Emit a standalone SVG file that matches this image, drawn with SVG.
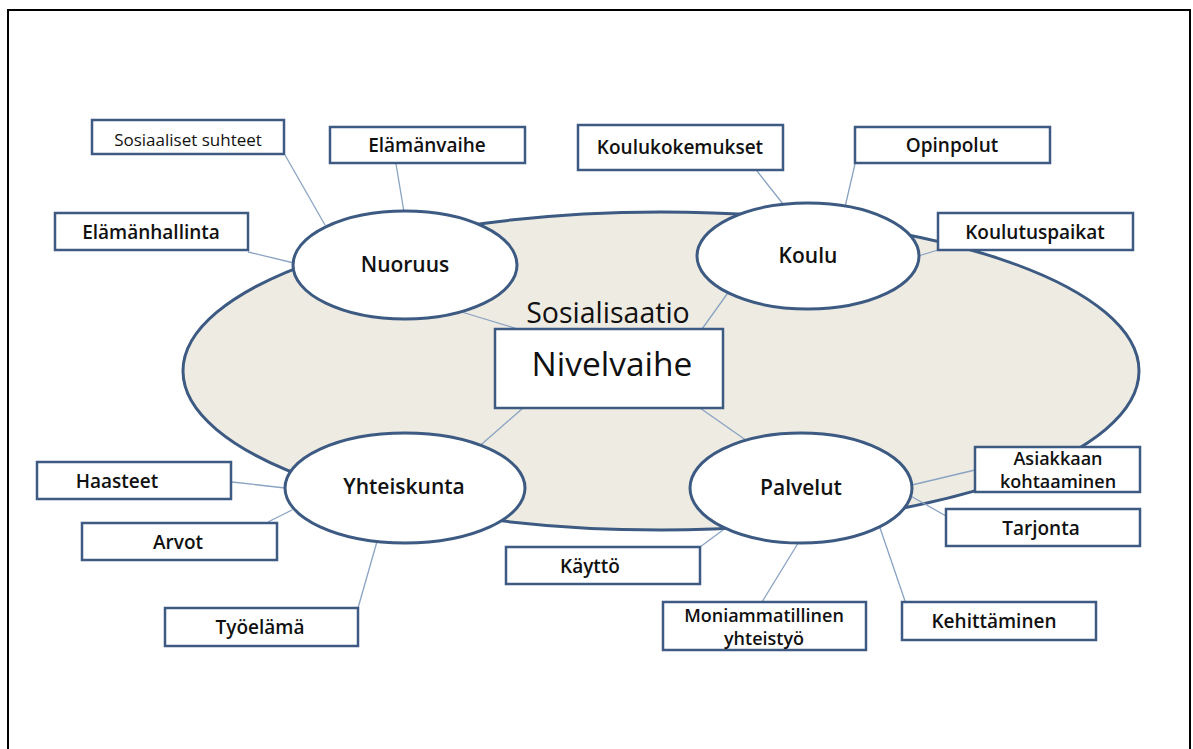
<svg xmlns="http://www.w3.org/2000/svg" width="1193" height="749" viewBox="0 0 1193 749">
<style>
.frame{fill:#fff;stroke:#000;stroke-width:2}
.box{fill:#fff;stroke:#3c5a82;stroke-width:2.5}
.ell{fill:#fff;stroke:#3c5a82;stroke-width:3}
.big{fill:#eeebe2;stroke:#3c5a82;stroke-width:3}
.ln{stroke:#8aa3c2;stroke-width:1.3;fill:none}
text{font-family:"Open Sans","Liberation Sans",sans-serif;fill:#111;text-anchor:middle}
.t{font-size:19px;font-weight:600}
.t2{font-size:18px;font-weight:600}
.e{font-size:21px;font-weight:600}
</style>
<rect class="frame" x="8" y="10" width="1182" height="745"/>
<g id="sosialisaatio">
<ellipse class="big" cx="661" cy="371" rx="478" ry="159"/>
<text x="608" y="323" style="font-size:28.5px">Sosialisaatio</text>
</g>
<g id="connectors">
<line class="ln" x1="285" y1="155" x2="325" y2="225"/>
<line class="ln" x1="396" y1="164" x2="404" y2="212"/>
<line class="ln" x1="248" y1="252" x2="294" y2="263"/>
<line class="ln" x1="455" y1="310" x2="518" y2="329"/>
<line class="ln" x1="757" y1="171" x2="783" y2="204"/>
<line class="ln" x1="855" y1="164" x2="845" y2="207"/>
<line class="ln" x1="938" y1="250" x2="918" y2="256"/>
<line class="ln" x1="730" y1="290" x2="702" y2="329"/>
<line class="ln" x1="523" y1="408" x2="475" y2="450"/>
<line class="ln" x1="700" y1="408" x2="750" y2="443"/>
<line class="ln" x1="232" y1="482" x2="285" y2="488"/>
<line class="ln" x1="268" y1="522" x2="292" y2="510"/>
<line class="ln" x1="358" y1="608" x2="378" y2="538"/>
<line class="ln" x1="700" y1="547" x2="723" y2="530"/>
<line class="ln" x1="762" y1="602" x2="800" y2="540"/>
<line class="ln" x1="905" y1="601" x2="878" y2="522"/>
<line class="ln" x1="946" y1="516" x2="909" y2="495"/>
<line class="ln" x1="975" y1="470" x2="912" y2="485"/>
</g>
<g id="nuoruus"><ellipse class="ell" cx="405" cy="265" rx="112" ry="54"/><text class="e" x="405" y="272">Nuoruus</text></g>
<g id="koulu"><ellipse class="ell" cx="808" cy="256" rx="111" ry="53"/><text class="e" x="808" y="263">Koulu</text></g>
<g id="yhteiskunta"><ellipse class="ell" cx="405" cy="488" rx="120" ry="55"/><text class="e" x="404" y="494">Yhteiskunta</text></g>
<g id="palvelut"><ellipse class="ell" cx="801" cy="488" rx="111" ry="55"/><text class="e" x="801" y="495">Palvelut</text></g>
<g id="nivelvaihe"><rect class="box" x="495" y="329" width="228" height="79"/><text x="612" y="376" style="font-size:33.5px">Nivelvaihe</text></g>
<g id="sosiaaliset-suhteet"><rect class="box" x="92" y="120" width="192" height="34"/><text x="188" y="146" style="font-size:17px">Sosiaaliset suhteet</text></g>
<g id="elamanvaihe"><rect class="box" x="330" y="127" width="195" height="36"/><text class="t" x="427" y="152">Elämänvaihe</text></g>
<g id="elamanhallinta"><rect class="box" x="55" y="213" width="193" height="37"/><text class="t" x="151" y="239">Elämänhallinta</text></g>
<g id="koulukokemukset"><rect class="box" x="578" y="125" width="205" height="45"/><text class="t" x="680" y="154">Koulukokemukset</text></g>
<g id="opinpolut"><rect class="box" x="855" y="127" width="195" height="36"/><text class="t" x="952" y="152">Opinpolut</text></g>
<g id="koulutuspaikat"><rect class="box" x="938" y="213" width="195" height="37"/><text class="t" x="1035" y="239">Koulutuspaikat</text></g>
<g id="haasteet"><rect class="box" x="37" y="462" width="194" height="37"/><text class="t" x="117" y="488">Haasteet</text></g>
<g id="arvot"><rect class="box" x="82" y="523" width="195" height="37"/><text class="t" x="178" y="549">Arvot</text></g>
<g id="tyoelama"><rect class="box" x="165" y="608" width="193" height="38"/><text class="t" x="260" y="634">Työelämä</text></g>
<g id="kaytto"><rect class="box" x="506" y="547" width="194" height="37"/><text class="t" x="590" y="573">Käyttö</text></g>
<g id="moniammatillinen"><rect class="box" x="663" y="602" width="203" height="48"/><text class="t2" x="764" y="622">Moniammatillinen</text><text class="t2" x="764" y="645">yhteistyö</text></g>
<g id="kehittaminen"><rect class="box" x="902" y="602" width="194" height="38"/><text class="t" x="994" y="628">Kehittäminen</text></g>
<g id="asiakkaan"><rect class="box" x="975" y="447" width="165" height="45"/><text class="t2" x="1058" y="465">Asiakkaan</text><text class="t2" x="1058" y="488">kohtaaminen</text></g>
<g id="tarjonta"><rect class="box" x="946" y="509" width="194" height="37"/><text class="t" x="1041" y="535">Tarjonta</text></g>
</svg>
